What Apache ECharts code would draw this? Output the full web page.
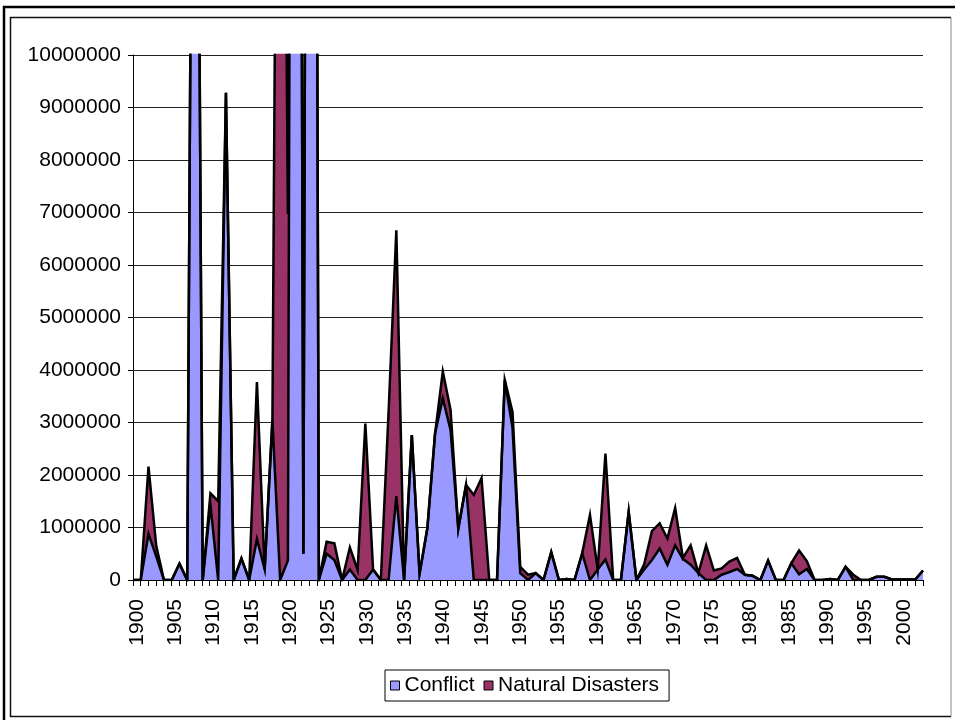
<!DOCTYPE html>
<html>
<head>
<meta charset="utf-8">
<title>Conflict and Natural Disasters, 1900-2002</title>
<script src="https://cdn.jsdelivr.net/npm/echarts@6/dist/echarts.min.js"></script>
<style>
  html, body { margin: 0; padding: 0; background: #ffffff; }
  #chart { width: 955px; height: 720px; }
</style>
</head>
<body>
<div id="chart"></div>
<script>
// Years on the category axis (one per data point)
var years = [
  '1900','1901','1902','1903','1904','1905','1906','1907','1908','1909',
  '1910','1911','1912','1913','1914','1915','1916','1917','1918','1919',
  '1920','1921','1922','1923','1924','1925','1926','1927','1928','1929',
  '1930','1931','1932','1933','1934','1935','1936','1937','1938','1939',
  '1940','1941','1942','1943','1944','1945','1946','1947','1948','1949',
  '1950','1951','1952','1953','1954','1955','1956','1957','1958','1959',
  '1960','1961','1962','1963','1964','1965','1966','1967','1968','1969',
  '1970','1971','1972','1973','1974','1975','1976','1977','1978','1979',
  '1980','1981','1982','1983','1984','1985','1986','1987','1988','1989',
  '1990','1991','1992','1993','1994','1995','1996','1997','1998','1999',
  '2000','2001','2002'
];

// Deaths from conflict, per year
var conflict = [
  0, 0, 880000, 450000, 0, 0, 310000, 0, 25000000, 0,
  1430000, 0, 9280000, 0, 410000, 0, 780000, 200000, 3050000, 0,
  370000, 50000000, 500000, 50000000, 0, 500000, 380000, 0, 200000, 0,
  0, 200000, 0, 0, 1600000, 0, 2760000, 120000, 980000, 2790000,
  3460000, 2860000, 980000, 1810000, 0, 0, 0, 0, 3810000, 2900000,
  130000, 0, 130000, 0, 530000, 0, 20000, 0, 510000, 0,
  200000, 390000, 0, 0, 1300000, 0, 200000, 380000, 600000, 290000,
  660000, 400000, 290000, 130000, 0, 0, 100000, 150000, 210000, 100000,
  80000, 0, 370000, 0, 0, 320000, 110000, 210000, 0, 0,
  20000, 0, 250000, 0, 0, 0, 60000, 60000, 10000, 10000,
  10000, 10000, 180000
];

// Deaths from natural disasters, per year
var naturalDisasters = [
  0, 0, 1280000, 200000, 0, 0, 0, 0, 0, 0,
  220000, 1500000, 0, 0, 0, 0, 2990000, 0, 0, 26000000,
  6600000, 0, 0, 0, 0, 230000, 320000, 0, 420000, 190000,
  2980000, 0, 0, 3200000, 5060000, 0, 0, 0, 0, 0,
  510000, 380000, 0, 0, 1620000, 1940000, 0, 0, 0, 300000,
  120000, 100000, 0, 0, 0, 0, 0, 0, 0, 1240000,
  0, 2020000, 0, 0, 0, 0, 100000, 550000, 480000, 500000,
  710000, 20000, 370000, 0, 660000, 180000, 120000, 200000, 210000, 0,
  0, 0, 0, 0, 0, 0, 450000, 150000, 0, 0,
  0, 0, 0, 100000, 0, 0, 0, 0, 0, 0,
  0, 0, 0
];

var seriesNames = ['Conflict', 'Natural Disasters'];
var seriesColors = ['#9999FF', '#993366'];

var FONT = '"Liberation Sans", Arial, sans-serif';

var chart = echarts.init(document.getElementById('chart'), null, { renderer: 'canvas' });

chart.setOption({
  backgroundColor: '#ffffff',
  animation: false,
  textStyle: { fontFamily: FONT },
  graphic: [
    // outer frame
    { type: 'rect', silent: true, z: 100,
      shape: { x: 4, y: 7, width: 970, height: 730 },
      style: { fill: null, stroke: '#000', lineWidth: 2.5 } },
    // chart area border
    { type: 'polyline', silent: true, z: 100,
      shape: { points: [[951, 17.5], [10.5, 17.5], [10.5, 716.5], [951, 716.5]] },
      style: { fill: null, stroke: '#111', lineWidth: 1.5 } },
    { type: 'line', silent: true, z: 100,
      shape: { x1: 951, y1: 17.5, x2: 951, y2: 716.5 },
      style: { stroke: '#888', lineWidth: 1 } }
  ],
  grid: {
    left: 133, right: 32, top: 55, bottom: 140,
    containLabel: false,
    outerBoundsMode: 'none'
  },
  legend: {
    left: 385, top: 670,
    icon: 'rect',
    itemWidth: 9, itemHeight: 9, itemGap: 9,
    itemStyle: { borderColor: '#000', borderWidth: 1 },
    textStyle: { fontSize: 21, color: '#000', fontFamily: FONT },
    borderColor: '#000', borderWidth: 1,
    padding: [5, 10, 5, 5],
    data: seriesNames
  },
  xAxis: [
    {
      // visible axis: ticks on category boundaries, labels centred between them
      type: 'category',
      data: years,
      boundaryGap: true,
      position: 'bottom',
      axisLine: { show: true, lineStyle: { color: '#000', width: 1 } },
      axisTick: { show: true, interval: 0, length: 6, lineStyle: { color: '#000', width: 1 } },
      axisLabel: {
        interval: 4, rotate: 90, margin: 19,
        fontSize: 21, color: '#000', fontFamily: FONT
      },
      splitLine: { show: false }
    },
    {
      // axis the areas are plotted on: points span edge to edge
      type: 'category',
      data: years,
      boundaryGap: false,
      show: false
    }
  ],
  yAxis: {
    type: 'value',
    min: 0, max: 10000000, interval: 1000000,
    axisLine: { show: true, lineStyle: { color: '#000', width: 1 } },
    axisTick: { show: true, length: 5, lineStyle: { color: '#000', width: 1 } },
    axisLabel: {
      margin: 12, fontSize: 21, color: '#000', fontFamily: FONT,
      formatter: function (v) { return String(v); }
    },
    splitLine: { show: true, lineStyle: { color: '#222', width: 1 } }
  },
  series: [
    {
      name: seriesNames[0],
      type: 'line',
      xAxisIndex: 1,
      stack: 'deaths',
      data: conflict,
      showSymbol: false,
      symbol: 'none',
      clip: true,
      itemStyle: { color: seriesColors[0] },
      lineStyle: { color: '#000', width: 2.5, join: 'miter' },
      areaStyle: { color: seriesColors[0], opacity: 1 }
    },
    {
      name: seriesNames[1],
      type: 'line',
      xAxisIndex: 1,
      stack: 'deaths',
      data: naturalDisasters,
      showSymbol: false,
      symbol: 'none',
      clip: true,
      itemStyle: { color: seriesColors[1] },
      lineStyle: { color: '#000', width: 2.5, join: 'miter' },
      areaStyle: { color: seriesColors[1], opacity: 1 }
    }
  ]
});
</script>
</body>
</html>
